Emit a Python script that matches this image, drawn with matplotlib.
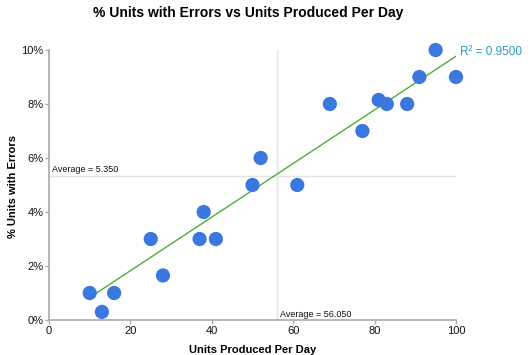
import numpy as np
import matplotlib.pyplot as plt
from matplotlib.ticker import FuncFormatter

# dados
units_per_day = [10, 13, 16, 25, 28, 37, 38, 41, 50, 52, 61, 69, 77, 81, 83, 88, 91, 95, 100]
pct_errors = [1.0, 0.3, 1.0, 3.0, 1.65, 3.0, 4.0, 3.0, 5.0, 6.0, 5.0, 8.0, 7.0, 8.15, 8.0, 8.0, 9.0, 10.0, 9.0]
avg_x = 56.05
avg_y = 5.35
# linha de tendência como aparece no gráfico (inclinação / intercepto lidos)
trend_slope = 0.0993
trend_intercept = -0.16
r2_label = "R² = 0.9500"

x_ticks = [0, 20, 40, 60, 80, 100]
y_ticks = [0, 2, 4, 6, 8, 10]

plt.rcParams['font.family'] = ['Liberation Sans', 'DejaVu Sans']

fig = plt.figure(figsize=(5.32, 3.55), dpi=100)
ax = fig.add_axes([49 / 532, 35 / 355, 407 / 532, 270 / 355])

# linhas de média
ax.axvline(avg_x, color="#e3e3e3", linewidth=1, zorder=1)
ax.axhline(avg_y, color="#e3e3e3", linewidth=1, zorder=1)
ax.text(avg_x + 0.8, 0.1, f"Average = {avg_x:.3f}", fontsize=6.5, color="#111111",
        va="baseline", ha="left")
ax.text(0.8, avg_y + 0.12, f"Average = {avg_y:.3f}", fontsize=6.5, color="#111111",
        va="baseline", ha="left")

# linha de tendência
xl = np.array([min(units_per_day), max(units_per_day)], dtype=float)
yl = trend_slope * xl + trend_intercept
ax.plot(xl, yl, color="#4caf35", linewidth=1, zorder=2)
ax.text(xl[1] + 0.9, yl[1] + 0.03, r2_label, fontsize=8.5,
        color="#239fc2", ha="left", va="baseline", clip_on=False)

ax.scatter(units_per_day, pct_errors, s=105, color="#3a78e0", edgecolors="none",
           zorder=3, clip_on=False)

ax.set_xlim(0, 100)
ax.set_ylim(0, 10)
ax.set_xticks(x_ticks)
ax.set_yticks(y_ticks)
ax.yaxis.set_major_formatter(FuncFormatter(lambda v, p: f"{v:.0f}%"))

for s in ['top', 'right']:
    ax.spines[s].set_visible(False)
for s in ['left', 'bottom']:
    ax.spines[s].set_color("#aaaaaa")
    ax.spines[s].set_linewidth(1.2)
ax.tick_params(axis='both', colors="#aaaaaa", labelcolor="#111111", labelsize=8,
               length=3, width=1, pad=1)

ax.set_xlabel("Units Produced Per Day", fontsize=8, fontweight="bold", labelpad=7)
fig.text(13 / 532, 1 - 187 / 355, "% Units with Errors", fontsize=8, fontweight="bold",
         rotation=90, ha="center", va="center")

fig.text(248 / 532, 1 - 12.5 / 355, "% Units with Errors vs Units Produced Per Day",
         fontsize=10, fontweight="bold", ha="center", va="center")

fig.savefig("out.png", dpi=100)
